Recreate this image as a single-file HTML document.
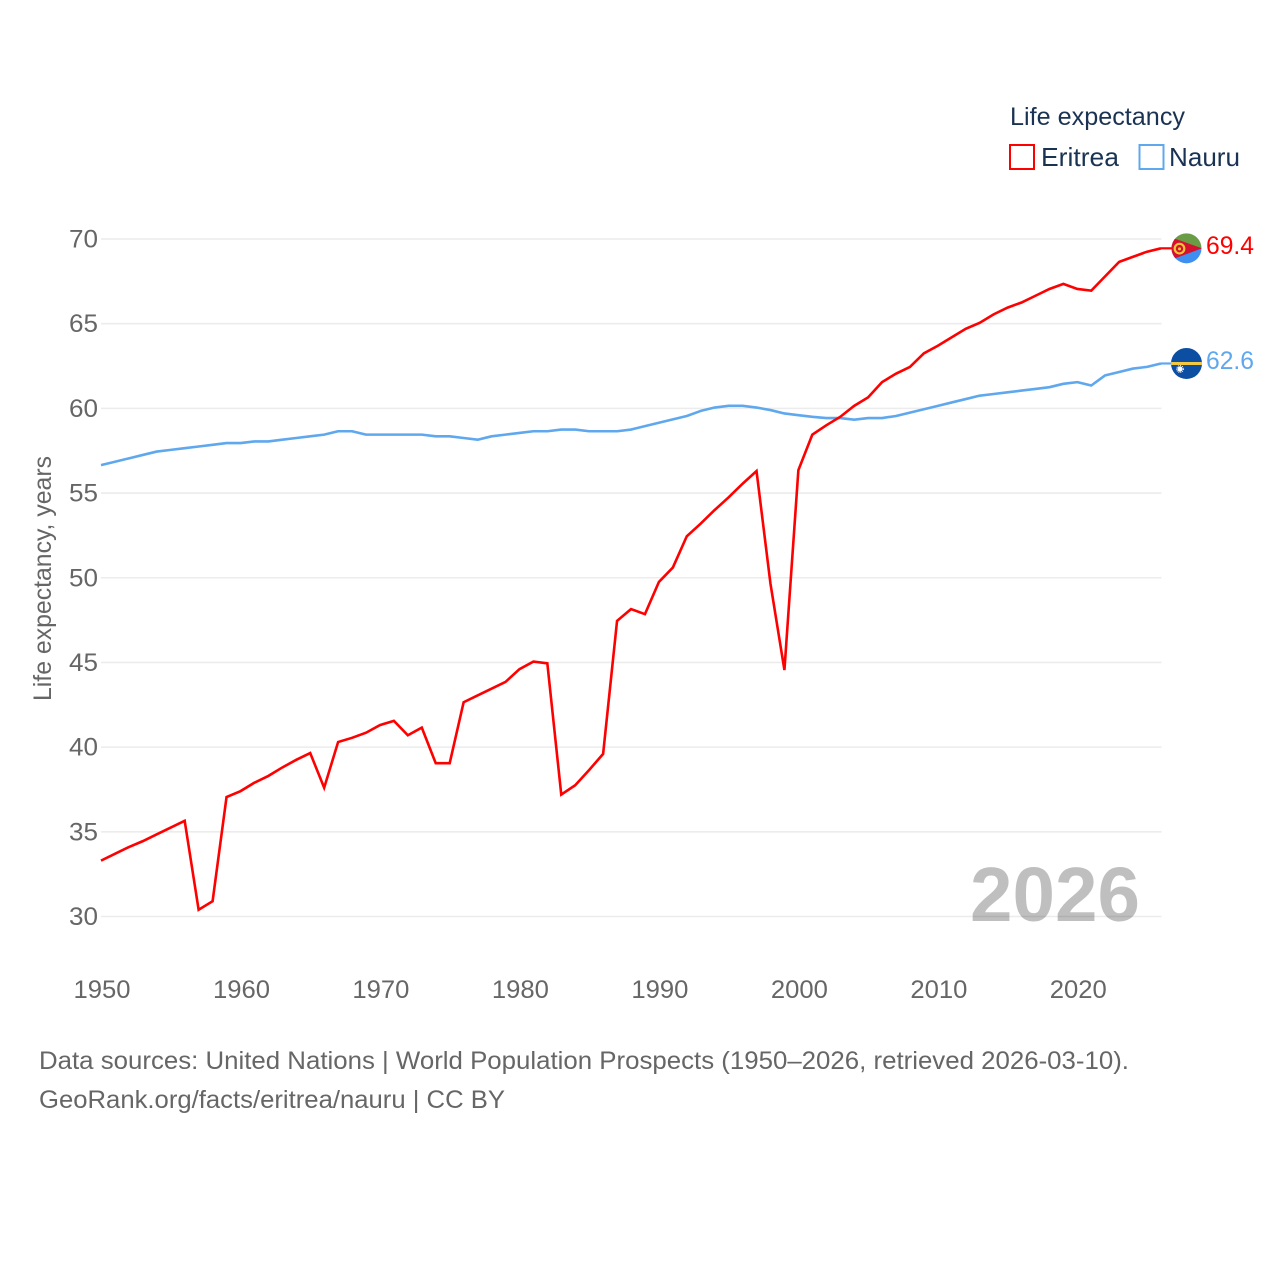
<!DOCTYPE html>
<html lang="en">
<head>
<meta charset="utf-8">
<title>Life expectancy: Eritrea and Nauru</title>
<style>
html,body{margin:0;padding:0;background:#fff;}
svg{display:block;font-family:"Liberation Sans",sans-serif;}
</style>
</head>
<body>
<svg id="chart" width="1280" height="1280" viewBox="0 0 1280 1280" xmlns="http://www.w3.org/2000/svg">
  <defs>
    <clipPath id="flag-clip-er"><circle cx="1186.5" cy="0" r="15"/></clipPath>
    <clipPath id="flag-clip-nr"><circle cx="1186.5" cy="0" r="15.5"/></clipPath>
  </defs>
  <g id="grid"></g>
  <g id="y-ticks"></g>
  <g id="x-ticks"></g>
  <text transform="translate(51,701) rotate(-90)" font-size="25" fill="#666" textLength="245" lengthAdjust="spacingAndGlyphs">Life expectancy, years</text>
  <g id="series"></g>
  <text x="970" y="921" font-size="77" font-weight="700" fill="#000" fill-opacity="0.25" textLength="170" lengthAdjust="spacingAndGlyphs">2026</text>
  <g id="markers"></g>
  <g>
    <text x="1010" y="125" font-size="25" fill="#1a3353" textLength="175" lengthAdjust="spacingAndGlyphs">Life expectancy</text>
    <g>
      <rect x="1010" y="145" width="24" height="24" fill="none" stroke="#ff0000" stroke-width="2"/>
      <text x="1041" y="166" font-size="26" fill="#1a3353" textLength="78" lengthAdjust="spacingAndGlyphs">Eritrea</text>
    </g>
    <g>
      <rect x="1139.5" y="145" width="24" height="24" fill="none" stroke="#5fa8ee" stroke-width="2"/>
      <text x="1169" y="166" font-size="26" fill="#1a3353" textLength="71" lengthAdjust="spacingAndGlyphs">Nauru</text>
    </g>
  </g>
  <text x="39" y="1069" font-size="25" fill="#666" textLength="1090" lengthAdjust="spacingAndGlyphs">Data sources: United Nations | World Population Prospects (1950–2026, retrieved 2026-03-10).</text>
  <text x="39" y="1108" font-size="25" fill="#666" textLength="466" lengthAdjust="spacingAndGlyphs">GeoRank.org/facts/eritrea/nauru | CC BY</text>
</svg>
<script>
const years = [1950,1951,1952,1953,1954,1955,1956,1957,1958,1959,1960,1961,1962,1963,1964,1965,1966,1967,1968,1969,1970,1971,1972,1973,1974,1975,1976,1977,1978,1979,1980,1981,1982,1983,1984,1985,1986,1987,1988,1989,1990,1991,1992,1993,1994,1995,1996,1997,1998,1999,2000,2001,2002,2003,2004,2005,2006,2007,2008,2009,2010,2011,2012,2013,2014,2015,2016,2017,2018,2019,2020,2021,2022,2023,2024,2025,2026];
const eritreaValues = [33.3,33.7,34.1,34.45,34.85,35.25,35.65,30.4,30.9,37.05,37.4,37.9,38.3,38.8,39.25,39.65,37.6,40.3,40.55,40.85,41.3,41.55,40.7,41.15,39.05,39.05,42.65,43.05,43.45,43.85,44.6,45.05,44.95,37.2,37.75,38.65,39.6,47.45,48.15,47.85,49.75,50.6,52.45,53.2,54.0,54.75,55.55,56.3,49.65,44.55,56.35,58.45,59.0,59.5,60.15,60.65,61.55,62.05,62.45,63.25,63.7,64.2,64.7,65.05,65.55,65.95,66.25,66.65,67.05,67.35,67.05,66.95,67.8,68.65,68.95,69.25,69.45];
const nauruValues = [56.65,56.85,57.05,57.25,57.45,57.55,57.65,57.75,57.85,57.95,57.95,58.05,58.05,58.15,58.25,58.35,58.45,58.65,58.65,58.45,58.45,58.45,58.45,58.45,58.35,58.35,58.25,58.15,58.35,58.45,58.55,58.65,58.65,58.75,58.75,58.65,58.65,58.65,58.75,58.95,59.15,59.35,59.55,59.85,60.05,60.15,60.15,60.05,59.9,59.7,59.6,59.5,59.43,59.43,59.33,59.43,59.43,59.55,59.75,59.95,60.15,60.35,60.55,60.75,60.85,60.95,61.05,61.15,61.25,61.45,61.55,61.35,61.95,62.15,62.35,62.45,62.65];
const yTickValues = [30,35,40,45,50,55,60,65,70];
const xTickValues = [1950,1960,1970,1980,1990,2000,2010,2020];
const eritreaLabel = "69.4";
const nauruLabel = "62.6";

const NS = "http://www.w3.org/2000/svg";
function xScale(year){ return 101 + (year - 1950) * (1161 - 101) / (2026 - 1950); }
function yScale(value){ return 916.5 - (value - 30) * (916.5 - 239) / (70 - 30); }
function make(tag, parent){
  const el = document.createElementNS(NS, tag);
  parent.appendChild(el);
  return el;
}
function setAll(el, map){
  Object.keys(map).forEach(function(k){ el.setAttribute(k, map[k]); });
}

const gridG = document.getElementById("grid");
const yG = document.getElementById("y-ticks");
yTickValues.forEach(function(v){
  const line = make("line", gridG);
  
  
  setAll(line, {x1:101, x2:1161.5, y1:yScale(v), y2:yScale(v), stroke:"#ececec", "stroke-width":1.6});
  const t = make("text", yG);
  
  
  setAll(t, {x:69, y:yScale(v)+8.5, "font-size":25, fill:"#666", textLength:29, lengthAdjust:"spacingAndGlyphs"});
  t.textContent = String(v);
});

const xG = document.getElementById("x-ticks");
xTickValues.forEach(function(v){
  const t = make("text", xG);
  
  
  setAll(t, {x:xScale(v)-27.5, y:998, "font-size":25, fill:"#666", textLength:57, lengthAdjust:"spacingAndGlyphs"});
  t.textContent = String(v);
});

function linePoints(values){
  return values.map(function(v, i){ return xScale(years[i]).toFixed(2) + "," + yScale(v).toFixed(2); }).join(" ");
}
const seriesG = document.getElementById("series");

const nauruLine = make("polyline", seriesG);


setAll(nauruLine, {points:linePoints(nauruValues), fill:"none", stroke:"#5fa8ee", "stroke-width":2.6, "stroke-linejoin":"round"});

const eritreaLine = make("polyline", seriesG);


setAll(eritreaLine, {points:linePoints(eritreaValues), fill:"none", stroke:"#ff0000", "stroke-width":2.6, "stroke-linejoin":"miter"});

const markersG = document.getElementById("markers");
const lastX = xScale(years[years.length - 1]);

/* Eritrea end marker */
const erY = yScale(eritreaValues[eritreaValues.length - 1]);
document.querySelector("#flag-clip-er circle").setAttribute("cy", erY);
const erStub = make("line", markersG);


setAll(erStub, {x1:lastX, x2:1173, y1:erY, y2:erY, stroke:"#ff0000", "stroke-width":2.2});

const erFlag = make("g", markersG);


erFlag.setAttribute('clip-path', 'url(#flag-clip-er)');
const erGreen = make("rect", erFlag);
setAll(erGreen, {x:1171, y:erY-16, width:31, height:16, fill:"#6a9c45"});
const erBlue = make("rect", erFlag);
setAll(erBlue, {x:1171, y:erY, width:31, height:16, fill:"#3f8ff0"});
const erRed = make("polygon", erFlag);
setAll(erRed, {points:"1171,"+(erY-11)+" 1202,"+erY+" 1171,"+(erY+11.5), fill:"#d6112f"});
const erRing = make("circle", erFlag);
setAll(erRing, {cx:1179.5, cy:erY+0.3, r:4.8, fill:"none", stroke:"#f2c43a", "stroke-width":2.2});
const erCore = make("circle", erFlag);
setAll(erCore, {cx:1179.5, cy:erY+0.5, r:1.5, fill:"#f2c43a"});

const erText = make("text", markersG);


setAll(erText, {x:1206, y:erY+5.5, "font-size":25, fill:"#ff0000", textLength:48, lengthAdjust:"spacingAndGlyphs"});
erText.textContent = eritreaLabel;

/* Nauru end marker */
const nrY = yScale(nauruValues[nauruValues.length - 1]);
document.querySelector("#flag-clip-nr circle").setAttribute("cy", nrY);
const nrStub = make("line", markersG);


setAll(nrStub, {x1:lastX, x2:1173, y1:nrY, y2:nrY, stroke:"#5fa8ee", "stroke-width":2.2});

const nrFlag = make("g", markersG);


nrFlag.setAttribute('clip-path', 'url(#flag-clip-nr)');
const nrBlue = make("rect", nrFlag);
setAll(nrBlue, {x:1170, y:nrY-17, width:33, height:34, fill:"#0b4ea2"});
const nrStripe = make("rect", nrFlag);
setAll(nrStripe, {x:1170, y:nrY-1.5, width:33, height:3, fill:"#f5c842"});
const nrStar = make("circle", nrFlag);
setAll(nrStar, {cx:1180, cy:nrY+5.5, r:2.6, fill:"#ffffff"});
const nrRays = make("circle", nrFlag);
setAll(nrRays, {cx:1180, cy:nrY+5.5, r:3.4, fill:"none", stroke:"#ffffff", "stroke-width":1, "stroke-dasharray":"1 1"});

const nrText = make("text", markersG);


setAll(nrText, {x:1206, y:nrY+5.5, "font-size":25, fill:"#5fa8ee", textLength:48, lengthAdjust:"spacingAndGlyphs"});
nrText.textContent = nauruLabel;
</script>
</body>
</html>
